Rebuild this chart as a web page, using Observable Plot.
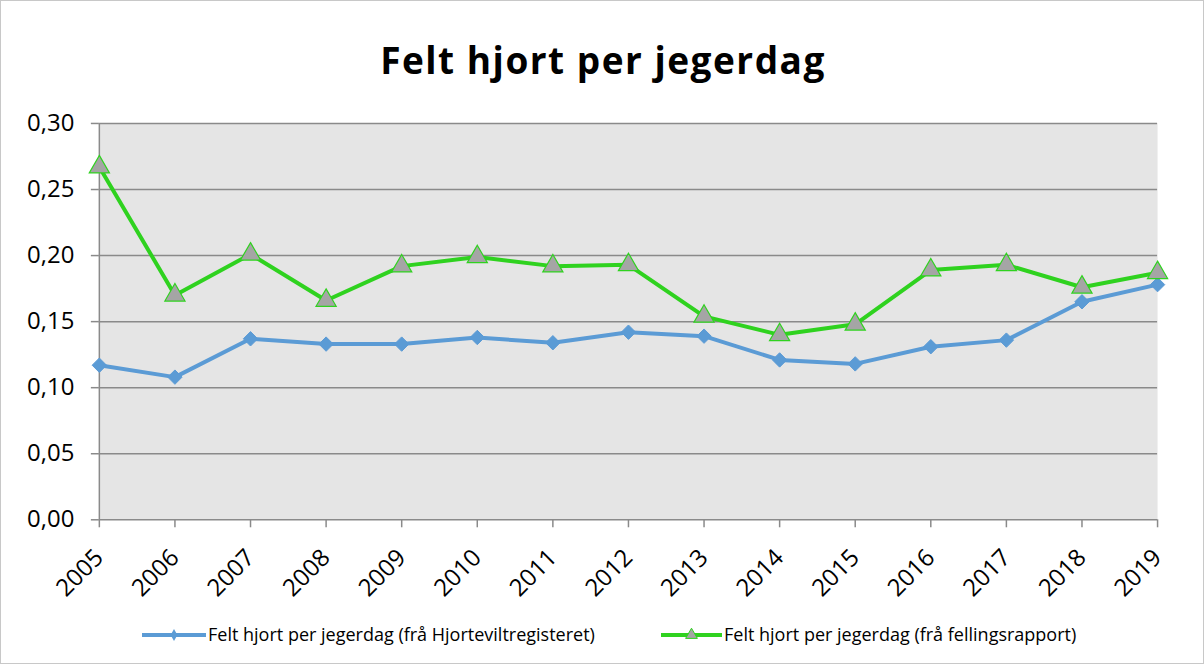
<!DOCTYPE html>
<html>
<head>
<meta charset="utf-8">
<script src="https://cdn.jsdelivr.net/npm/d3@7"></script>
<script src="https://cdn.jsdelivr.net/npm/@observablehq/plot@0.6"></script>
<style>
  html, body { margin: 0; padding: 0; background: #fff; }
  #frame { position: relative; width: 1204px; height: 664px; box-sizing: border-box; border: 1px solid #c8c8c8; overflow: hidden; font-family: "Open Sans", sans-serif; }
  #title { position: absolute; left: 0; top: 0; width: 1204px; height: 100px; text-align: center; font-weight: bold; font-size: 37px; letter-spacing: 1.5px; line-height: 1; color: #000; }
  #title span { position: absolute; left: 0; right: 0; top: 40px; }
  #chart { position: absolute; left: 0; top: 100px; }
  #legend { position: absolute; left: 0; top: 612px; }
</style>
</head>
<body>
<div id="frame">
  <div id="title"><span>Felt hjort per jegerdag</span></div>
  <div id="chart"></div>
  <div id="legend"></div>
</div>
<script>
const years = [2005, 2006, 2007, 2008, 2009, 2010, 2011, 2012, 2013, 2014, 2015, 2016, 2017, 2018, 2019];
const hjortevilt = [0.117, 0.108, 0.137, 0.133, 0.133, 0.138, 0.134, 0.142, 0.139, 0.121, 0.118, 0.131, 0.136, 0.165, 0.178];
const felling = [0.267, 0.170, 0.201, 0.166, 0.192, 0.199, 0.192, 0.193, 0.154, 0.140, 0.148, 0.189, 0.193, 0.176, 0.187];
const yTicks = [0, 0.05, 0.10, 0.15, 0.20, 0.25, 0.30];
const seriesNames = ["Felt hjort per jegerdag (frå Hjorteviltregisteret)", "Felt hjort per jegerdag (frå fellingsrapport)"];

const blue = "#5b9bd5";
const green = "#2fd21f";
const triFill = "#a5a5a5";
const gridColor = "#8a8a8a";

const blueData = years.map((y, i) => ({year: y, value: hjortevilt[i]}));
const greenData = years.map((y, i) => ({year: y, value: felling[i]}));

const fmt = d => d.toFixed(2).replace(".", ",");

const plot = Plot.plot({
  width: 1204,
  height: 510,
  marginLeft: 98,
  marginRight: 46,
  marginTop: 22,
  marginBottom: 91,
  style: {fontFamily: "'Open Sans', sans-serif", fontSize: "24px", color: "#000", background: "transparent"},
  x: {domain: [2005, 2019], label: null},
  y: {domain: [0, 0.30], label: null},
  marks: [
    Plot.frame({fill: "#e5e5e5", stroke: null}),
    Plot.ruleY(yTicks.filter(d => d > 0), {stroke: gridColor, strokeWidth: 1.5}),
    Plot.axisX({ticks: years, tickFormat: d => String(d), tickRotate: -45, tickSize: 8, tickPadding: 26, stroke: gridColor, strokeWidth: 1.5, fontSize: 24, label: null}),
    Plot.axisY({ticks: yTicks, tickFormat: fmt, tickSize: 8, tickPadding: 17, stroke: gridColor, strokeWidth: 1.5, fontSize: 24, label: null}),
    Plot.ruleY([0], {stroke: gridColor, strokeWidth: 1.5}),
    Plot.ruleX([2005], {stroke: gridColor, strokeWidth: 1.5}),
    Plot.line(blueData, {x: "year", y: "value", stroke: blue, strokeWidth: 4}),
    Plot.dot(blueData, {x: "year", y: "value", symbol: "diamond2", fill: blue, stroke: blue, strokeWidth: 1, r: 6.5}),
    Plot.line(greenData, {x: "year", y: "value", stroke: green, strokeWidth: 4}),
    Plot.dot(greenData, {x: "year", y: "value", symbol: "triangle", fill: triFill, stroke: green, strokeWidth: 1.2, r: 7.5})
  ]
});
document.getElementById("chart").appendChild(plot);

// Legend
const lg = d3.select("#legend").append("svg").attr("width", 1204).attr("height", 50);
const items = [
  {x0: 141, x1: 205, tx: 207, color: blue, sym: "diamond", name: seriesNames[0]},
  {x0: 660, x1: 721, tx: 723, color: green, sym: "triangle", name: seriesNames[1]}
];
const cy = 22;
items.forEach(it => {
  lg.append("line").attr("x1", it.x0).attr("x2", it.x1).attr("y1", cy).attr("y2", cy)
    .attr("stroke", it.color).attr("stroke-width", 4);
  const mx = (it.x0 + it.x1) / 2;
  if (it.sym === "diamond") {
    lg.append("path").attr("d", d3.symbol(d3.symbolDiamond, 40)()).attr("transform", `translate(${mx},${cy})`).attr("fill", it.color);
  } else {
    lg.append("path").attr("d", d3.symbol(d3.symbolTriangle, 60)()).attr("transform", `translate(${mx},${cy})`).attr("fill", triFill).attr("stroke", it.color).attr("stroke-width", 1);
  }
  lg.append("text").attr("x", it.tx).attr("y", cy).attr("dy", "0.35em")
    .attr("font-family", "'Open Sans', sans-serif").attr("font-size", 18).attr("fill", "#000").text(it.name);
});
</script>
</body>
</html>
